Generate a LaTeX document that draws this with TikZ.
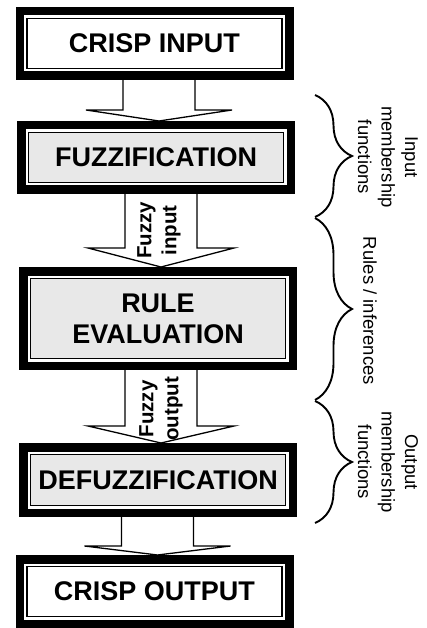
\documentclass[tikz,border=0pt]{standalone}
\usepackage{fontspec}
\setmainfont{Liberation Sans}
\usetikzlibrary{calc, decorations.pathreplacing}
\definecolor{boxgrey}{RGB}{232,232,232}

\begin{document}
\begin{tikzpicture}[x=1pt, y=-1pt,
  stage/.style={draw, line width=1.3pt, outer sep=0pt, inner sep=0pt,
    minimum width=255pt, minimum height=50pt, align=center,
    font=\bfseries\fontsize{27}{31}\selectfont},
  rim/.style={draw, line width=8.5pt},
  flow/.style={draw, fill=white, line width=1.3pt, line join=miter},
  flowtext/.style={rotate=90, align=center, font=\bfseries\fontsize{20.5}{25}\selectfont},
  curly/.style={decorate, decoration={brace, amplitude=37pt}, line width=1.9pt},
  side/.style={rotate=-90, align=center, font=\fontsize{18.5}{23.5}\selectfont}]

  \useasboundingbox (0,0) rectangle (427,628);

  % the five stages, top to bottom
  \node[stage] (cin) at (154.5,43.5) {CRISP INPUT};
  \node[stage, fill=boxgrey] (fz) at (156,157.5) {FUZZIFICATION};
  \node[stage, fill=boxgrey, minimum height=80pt] (re) at (158,318.5) {RULE\\EVALUATION};
  \node[stage, fill=boxgrey, minimum height=51pt] (dfz) at (158,480) {DEFUZZIFICATION};
  \node[stage] (cout) at (154.5,591.5) {CRISP OUTPUT};

  % block arrows between stages (\h = height of the head)
  \foreach \a/\b/\h in {cin/fz/11, fz/re/19, re/dfz/17, dfz/cout/9} {
    \coordinate (tip) at ($(\b.north)+(3pt,11.5pt)$);
    \draw[flow] ($(\a.south -| tip)+(-36pt,-7pt)$) -- ($(tip)+(-36pt,\h pt)$)
      -- ($(tip)+(-73pt,\h pt)$) -- (tip) -- ($(tip)+(73pt,\h pt)$)
      -- ($(tip)+(36pt,\h pt)$) -- ($(\a.south -| tip)+(36pt,-7pt)$) -- cycle;
  }

  % heavy outer frame round each stage
  \foreach \b in {cin,fz,re,dfz,cout}
    \draw[rim] ([shift={(-7.25pt,7.25pt)}]\b.north west) rectangle ([shift={(7.25pt,-7.25pt)}]\b.south east);

  \node[flowtext] (fin) at ($(fz.south)!0.5!(re.north)+(2pt,0pt)$) {Fuzzy\\input};
  \node[flowtext] (fout) at ($(re.south)!0.5!(dfz.north)+(3pt,-2.5pt)$) {Fuzzy\\output};

  % braces on the right
  \draw[curly] (315,95) -- (315,217);
  \draw[curly] (315,218) -- (315,400);
  \draw[curly] (315,401) -- (315,523);
  \node[side] (lin) at (388,157) {Input\\membership\\functions};
  \node[side] (lrule) at (370,311) {Rules / inferences};
  \node[side] (lout) at (388,462) {Output\\membership\\functions};
\end{tikzpicture}
\end{document}
